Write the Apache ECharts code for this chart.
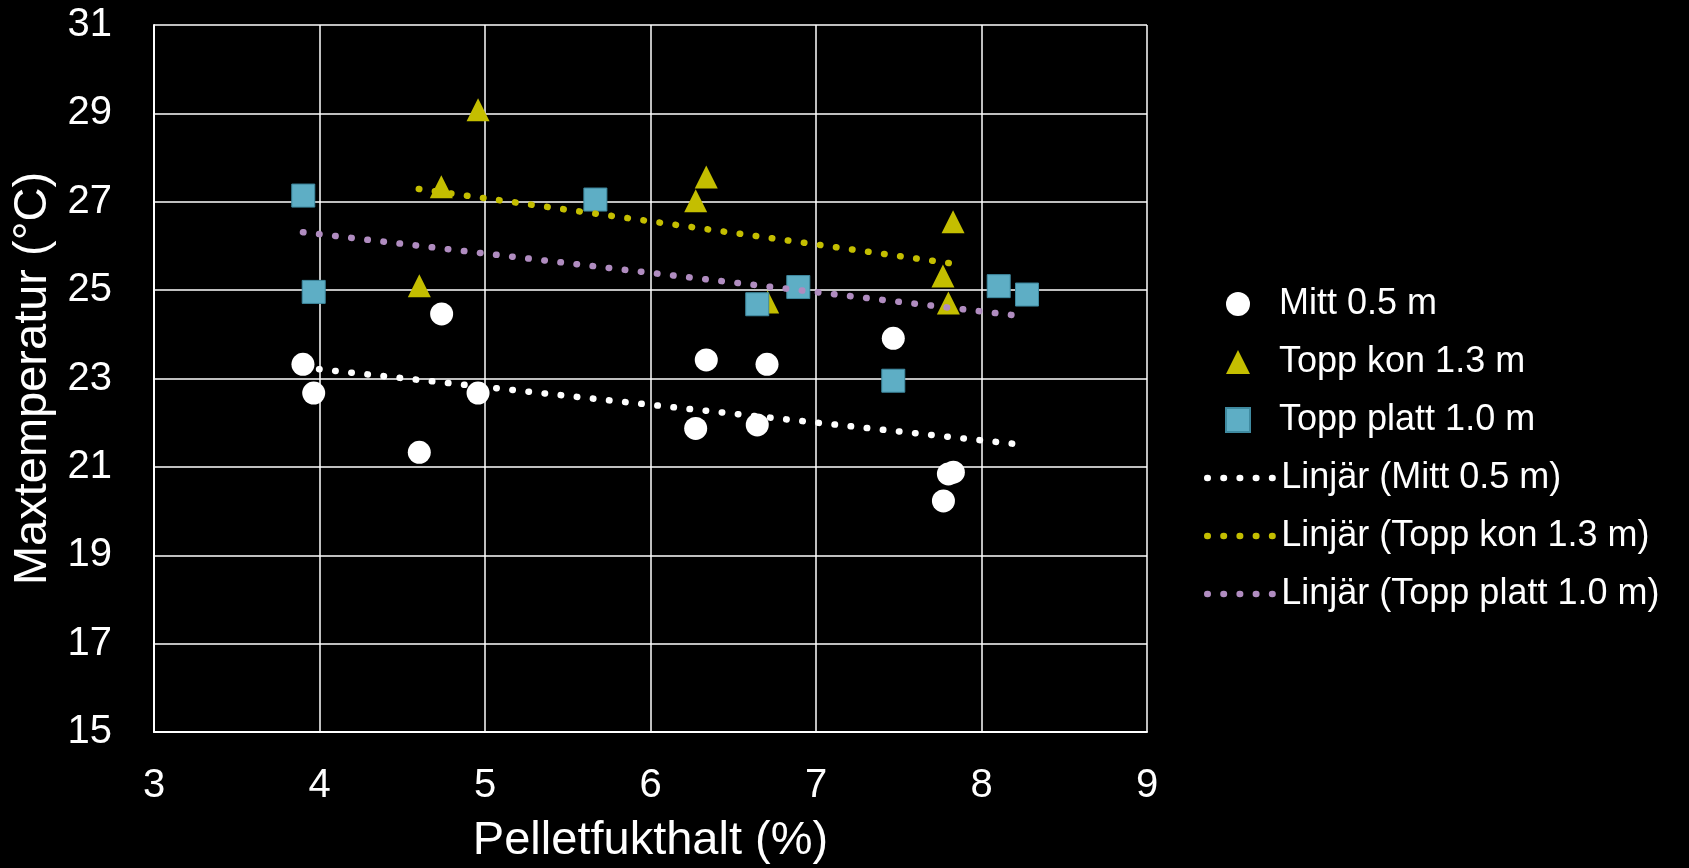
<!DOCTYPE html>
<html>
<head>
<meta charset="utf-8">
<script src="https://cdn.jsdelivr.net/npm/echarts@6/dist/echarts.min.js"></script>
<style>
html,body{margin:0;padding:0;background:#000;}
#chart{width:1689px;height:868px;}
</style>
</head>
<body>
<div id="chart"></div>
<script>
// Data
const mittX = [3.90, 3.965, 4.603, 4.738, 4.958, 6.273, 6.337, 6.645, 6.704, 7.467, 7.77, 7.80, 7.83];
const mittY = [23.32, 22.67, 21.33, 24.46, 22.67, 21.87, 23.42, 21.95, 23.32, 23.91, 20.23, 20.84, 20.88];

const konX = [4.603, 4.736, 4.958, 6.273, 6.337, 6.708, 7.767, 7.80, 7.828];
const konY = [25.10, 27.34, 29.08, 27.02, 27.56, 24.73, 25.32, 24.71, 26.55];

const plattX = [3.902, 3.965, 5.667, 6.645, 6.893, 7.467, 8.104, 8.275];
const plattY = [27.14, 24.96, 27.05, 24.68, 25.07, 22.95, 25.09, 24.90];

const trendMittX = [3.90, 8.20];
const trendMittY = [23.25, 21.52];
const trendKonX = [4.60, 7.81];
const trendKonY = [27.29, 25.61];
const trendPlattX = [3.90, 8.20];
const trendPlattY = [26.31, 24.43];

const seriesNames = ['Mitt 0.5 m', 'Topp kon 1.3 m', 'Topp platt 1.0 m',
  'Linjär (Mitt 0.5 m)', 'Linjär (Topp kon 1.3 m)', 'Linjär (Topp platt 1.0 m)'];

const xTicks = {min: 3, max: 9, interval: 1};
const yTicks = {min: 15, max: 31, interval: 2};

const zip = (xs, ys) => xs.map((x, i) => [x, ys[i]]);

const FONT = '"Liberation Sans", Arial, sans-serif';
const DOT_W = 6.5;
const dotted = (color) => ({color: color, width: DOT_W, type: [0.5, 15.7], cap: 'round'});

const chart = echarts.init(document.getElementById('chart'), null, {renderer: 'canvas'});
chart.setOption({
  backgroundColor: '#000000',
  animation: false,
  textStyle: {fontFamily: FONT, color: '#ffffff'},
  grid: {left: 154, right: 542, top: 25, bottom: 136, containLabel: false, outerBoundsMode: 'none'},
  xAxis: {
    type: 'value', min: xTicks.min, max: xTicks.max, interval: xTicks.interval,
    name: 'Pelletfukthalt (%)', nameLocation: 'middle', nameGap: 86,
    nameTextStyle: {fontSize: 47, color: '#ffffff', fontFamily: FONT},
    axisLine: {show: true, lineStyle: {color: '#ffffff', width: 2}},
    axisTick: {show: false},
    axisLabel: {fontSize: 40, color: '#ffffff', margin: 34, fontFamily: FONT},
    splitLine: {show: true, lineStyle: {color: '#ffffff', width: 1.5}}
  },
  yAxis: {
    type: 'value', min: yTicks.min, max: yTicks.max, interval: yTicks.interval,
    name: 'Maxtemperatur (°C)', nameLocation: 'middle', nameGap: 93, nameRotate: 90,
    nameTextStyle: {fontSize: 47, color: '#ffffff', fontFamily: FONT},
    axisLine: {show: true, lineStyle: {color: '#ffffff', width: 2}},
    axisTick: {show: false},
    axisLabel: {fontSize: 40, color: '#ffffff', margin: 42, fontFamily: FONT},
    splitLine: {show: true, lineStyle: {color: '#ffffff', width: 1.5}}
  },
  legend: [
    {
      orient: 'vertical', left: 1225, top: 286, padding: 0,
      itemWidth: 24, itemHeight: 24, itemGap: 22,
      textStyle: {fontSize: 36, color: '#ffffff', fontFamily: FONT, padding: [0, 0, 0, 24]},
      data: seriesNames.slice(0, 3)
    },
    {
      orient: 'vertical', left: 1204, top: 286 + 3 * 58, padding: 0,
      itemWidth: 68, itemHeight: 24, itemGap: 22,
      textStyle: {fontSize: 36, color: '#ffffff', fontFamily: FONT, padding: [0, 0, 0, 1]},
      data: seriesNames.slice(3).map(n => ({name: n, itemStyle: {opacity: 0}, lineStyle: {width: DOT_W}}))
    }
  ],
  series: [
    {name: seriesNames[0], type: 'scatter', symbol: 'circle', symbolSize: 23,
     itemStyle: {color: '#ffffff', opacity: 1}, data: zip(mittX, mittY)},
    {name: seriesNames[1], type: 'scatter', symbol: 'triangle', symbolSize: 23,
     itemStyle: {color: '#C4BE00', opacity: 1}, data: zip(konX, konY)},
    {name: seriesNames[2], type: 'scatter', symbol: 'rect', symbolSize: 23,
     itemStyle: {color: '#5EAEC5', borderColor: '#3f8aa0', borderWidth: 1, opacity: 1}, data: zip(plattX, plattY)},
    {name: seriesNames[3], type: 'line', symbol: 'none', lineStyle: dotted('#ffffff'),
     itemStyle: {color: '#ffffff'}, data: zip(trendMittX, trendMittY)},
    {name: seriesNames[4], type: 'line', symbol: 'none', lineStyle: dotted('#C4BE00'),
     itemStyle: {color: '#C4BE00'}, data: zip(trendKonX, trendKonY)},
    {name: seriesNames[5], type: 'line', symbol: 'none', lineStyle: dotted('#B08CC0'),
     itemStyle: {color: '#B08CC0'}, data: zip(trendPlattX, trendPlattY)}
  ]
});
</script>
</body>
</html>
